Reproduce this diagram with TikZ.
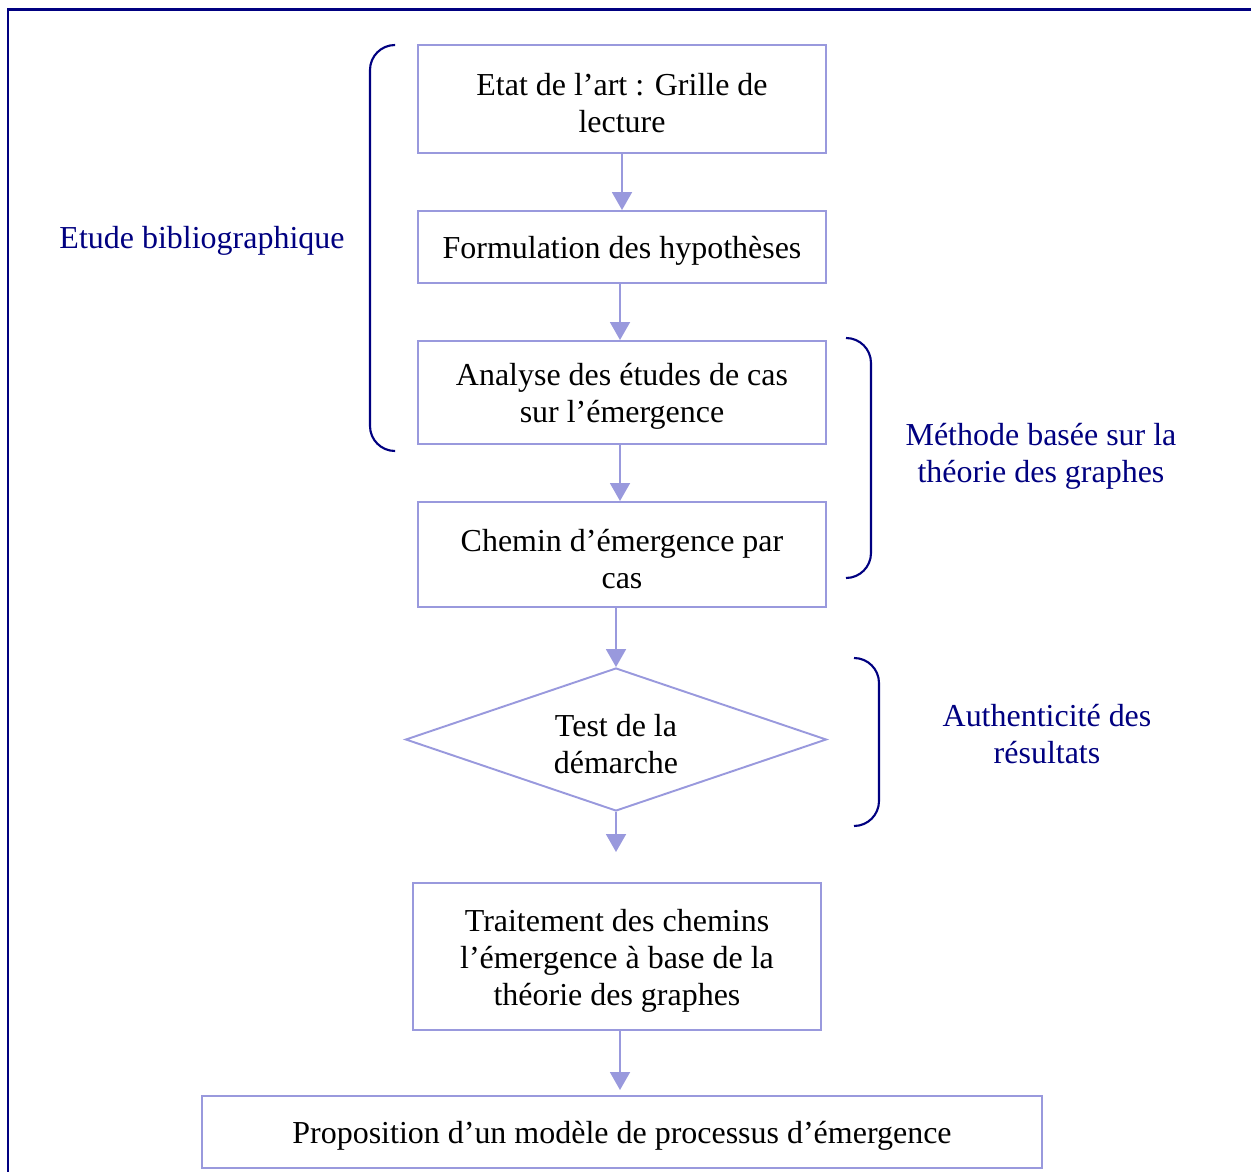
\documentclass[tikz,border=0pt]{standalone}
\usepackage{fontspec}
\setmainfont{Liberation Serif}
\usetikzlibrary{arrows.meta,shapes.geometric}
\definecolor{boxc}{RGB}{153,153,221}
\definecolor{navyc}{RGB}{0,0,128}
\newcommand\tp{\rule{0pt}{17.5pt}}
\begin{document}
\begin{tikzpicture}[x=0.02cm,y=-0.02cm,
  txt/.style={font=\fontsize{18.2}{21}\selectfont},
  stepbox/.style={txt,draw=boxc,line width=1.1pt,inner sep=0pt,align=center},
  decis/.style={txt,draw=boxc,line width=1.1pt,shape=diamond,aspect=2.94,inner sep=0pt,align=center,minimum width=8.42cm,minimum height=2.86cm},
  arr/.style={draw=boxc,line width=1.1pt,-{Triangle[width=0.4cm,length=0.36cm]},fill=boxc},
  brace/.style={draw=navyc,line width=1.2pt,rounded corners=0.5cm},
  lab/.style={txt,text=navyc,align=center}]
\useasboundingbox (0,0) rectangle (1251,1172);
% frame
\draw[navyc,line width=1.7pt] (8,1180) -- (8,9.5) -- (1260,9.5);
% boxes
\node[stepbox,minimum width=8.16cm,minimum height=2.16cm] (b1) at (622,99) {\tp Etat de l’art : Grille de\\lecture};
\node[stepbox,minimum width=8.16cm,minimum height=1.44cm] (b2) at (622,247) {\tp Formulation des hypothèses};
\node[stepbox,minimum width=8.16cm,minimum height=2.06cm] (b3) at (622,392.5) {\tp Analyse des études de cas\\sur l’émergence};
\node[stepbox,minimum width=8.16cm,minimum height=2.10cm] (b4) at (622,554.5) {\tp Chemin d’émergence par\\cas};
\node[decis] (d) at (616,739.5) {\tp Test de la\\démarche};
\node[stepbox,minimum width=8.16cm,minimum height=2.94cm] (b5) at (617,956.5) {\tp Traitement des chemins\\l’émergence à base de la\\théorie des graphes};
\node[stepbox,minimum width=16.8cm,minimum height=1.44cm] (b6) at (622,1132) {\tp Proposition d’un modèle de processus d’émergence};
\coordinate (dout) at (616,852);
% arrows
\draw[arr] (b1.south) -- (b2.north);
\draw[arr] (620,283) -- (620,340);
\draw[arr] (620,444) -- (620,501);
\draw[arr] (b4.south -| d.north) -- (d.north);
\draw[arr] (d.south) -- (dout);
\draw[arr] (620,1030) -- (620,1090);
% braces
\draw[brace] (395,45) -- (370,45) -- (370,451) -- (395,451);
\draw[brace] (846,338) -- (871,338) -- (871,578) -- (846,578);
\draw[brace] (854,658) -- (879,658) -- (879,826) -- (854,826);
% labels
\node[lab] (l1) at (202,237) {\tp Etude bibliographique};
\node[lab] (l2) at (1041,452) {\tp Méthode basée sur la\\théorie des graphes};
\node[lab] (l3) at (1047,730) {\tp Authenticité des\\résultats};
\end{tikzpicture}
\end{document}
